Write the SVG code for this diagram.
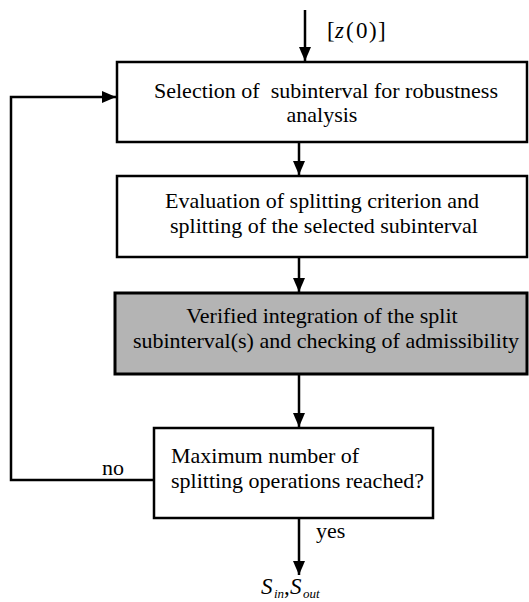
<svg xmlns="http://www.w3.org/2000/svg" width="529" height="602" viewBox="0 0 529 602">
<style>
.box{fill:#fff;stroke:#000;stroke-width:2.5}
.gray{fill:#b4b4b4;stroke:#000;stroke-width:3}
.t{font-family:"Liberation Serif","Times New Roman",serif;font-size:22px;fill:#000}
.c{text-anchor:middle}
.m{font-family:"Liberation Serif","Times New Roman",serif;font-size:23px;fill:#000}
.s{font-family:"Liberation Serif","Times New Roman",serif;font-size:13px;font-style:italic;fill:#000}
.i{font-style:italic}
.ln{fill:none;stroke:#000;stroke-width:2.5}
</style>
<defs>
<marker id="ah" markerWidth="14" markerHeight="12" refX="14" refY="6" orient="auto" markerUnits="userSpaceOnUse">
<path d="M0,0 L14,6 L0,12 Z" fill="#000"/>
</marker>
</defs>
<rect width="529" height="602" fill="#fff"/>
<g id="connectors">
<line class="ln" x1="305" y1="10" x2="305" y2="61" marker-end="url(#ah)"/>
<line class="ln" x1="299" y1="142" x2="299" y2="175" marker-end="url(#ah)"/>
<line class="ln" x1="299" y1="258" x2="299" y2="292" marker-end="url(#ah)"/>
<line class="ln" x1="299" y1="375" x2="299" y2="427" marker-end="url(#ah)"/>
<polyline class="ln" points="154,480 11,480 11,97 116,97" marker-end="url(#ah)"/>
<line class="ln" x1="299" y1="519" x2="299" y2="575" marker-end="url(#ah)"/>
<text class="t" x="102" y="475">no</text>
<text class="t" x="316" y="538">yes</text>
</g>
<g id="input">
<text class="m" y="38"><tspan x="327">[</tspan><tspan x="335" class="i">z</tspan><tspan x="346">(</tspan><tspan x="356">0</tspan><tspan x="369">)</tspan><tspan x="378">]</tspan></text>
</g>
<g id="node1">
<rect class="box" x="117" y="62" width="410" height="80"/>
<text class="t c" x="326" y="98" xml:space="preserve">Selection of  subinterval for robustness</text>
<text class="t c" x="322" y="122">analysis</text>
</g>
<g id="node2">
<rect class="box" x="117" y="176" width="410" height="81"/>
<text class="t c" x="322" y="208">Evaluation of splitting criterion and</text>
<text class="t c" x="324" y="233">splitting of the selected subinterval</text>
</g>
<g id="node3">
<rect class="gray" x="115" y="293" width="412" height="81"/>
<text class="t c" x="322" y="323">Verified integration of the split</text>
<text class="t c" x="326" y="348">subinterval(s) and checking of admissibility</text>
</g>
<g id="node4">
<rect class="box" x="154" y="428" width="279" height="90"/>
<text class="t" x="171" y="463">Maximum number of</text>
<text class="t" x="171" y="488">splitting operations reached?</text>
</g>
<g id="output">
<text class="m i" x="261" y="594">S</text>
<text class="s" x="274" y="598">in</text>
<text class="m" x="284" y="594">,</text>
<text class="m i" x="290" y="594">S</text>
<text class="s" x="303" y="598">out</text>
</g>
</svg>
